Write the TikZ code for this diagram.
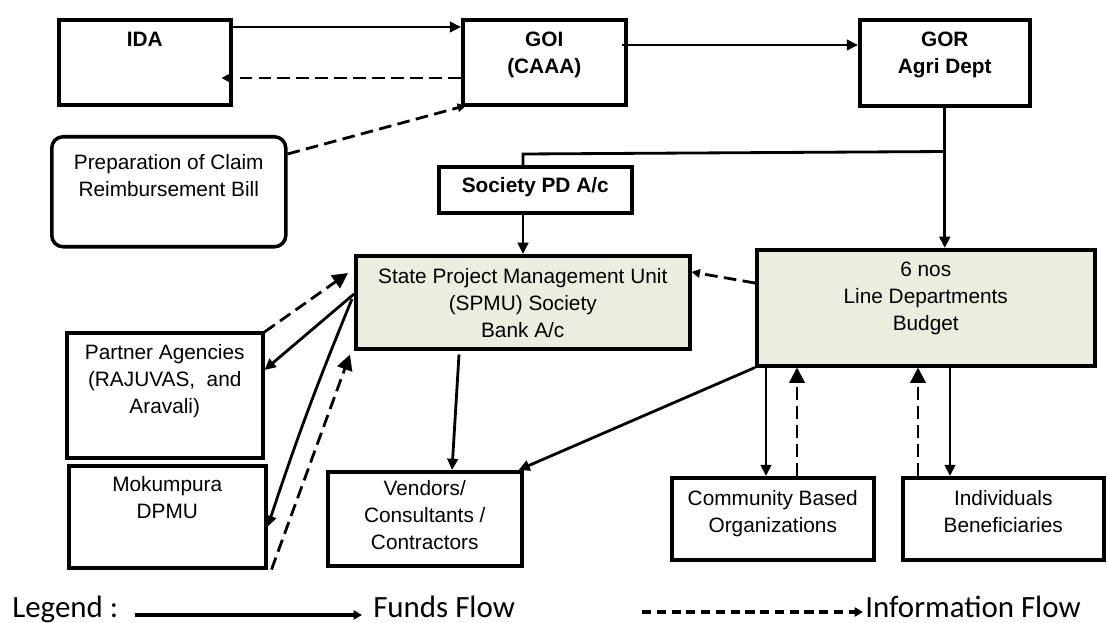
\documentclass[tikz,border=0pt]{standalone}
\usepackage{fontspec}
\setmainfont{Liberation Sans}
\newfontfamily\legfont{Carlito}
\usetikzlibrary{arrows.meta,calc}
\definecolor{spmufill}{HTML}{EBEEDE}
\newlength{\pxu}
\setlength{\pxu}{0.025cm}
% box text: width, height, first baseline from top, text
\newcommand{\boxtxt}[4]{\parbox[c][#2\pxu][t]{#1\pxu}{\centering\rule{0pt}{#3\pxu}#4}}

\begin{document}
\begin{tikzpicture}[x=0.025cm,y=-0.025cm,
  box/.style={draw, line width=2.5pt, inner sep=0pt, anchor=north west},
  fundflow/.style={line width=2pt, -{Triangle[length=8pt,width=7.5pt]}},
  infoflow/.style={line width=2pt, dash pattern=on 9pt off 4.5pt, -{Triangle[length=6pt,width=6pt]}},
  infobig/.style={line width=2pt, dash pattern=on 9pt off 4.5pt, -{Triangle[length=11pt,width=11pt]}}]
\fontsize{14.8}{19.2}\selectfont
\useasboundingbox (0,0) rectangle (1107,623);
% top row
\node[box] (ida) at (57,18) {\boxtxt{172}{85}{27}{\bfseries IDA}};
\node[box] (goi) at (461,18) {\boxtxt{163}{85}{27}{\bfseries GOI\\(CAAA)}};
\node[box] (gor) at (858,18) {\boxtxt{170}{86}{27}{\bfseries GOR\\Agri Dept}};
\node[box, rounded corners=8pt] (prep) at (50,135) {\boxtxt{234}{110}{33}{Preparation of Claim\\Reimbursement Bill}};
\node[box] (soc) at (437,165) {\boxtxt{193}{46}{26}{\bfseries Society PD A/c}};
% middle row
\node[box, fill=spmufill] (spmu) at (354,254) {\boxtxt{334}{93}{28}{State Project Management Unit\\(SPMU) Society\\Bank A/c}};
\node[box, fill=spmufill] (ld) at (755,248) {\boxtxt{338}{116}{27}{6 nos\\Line Departments\\Budget}};
\node[box] (part) at (65,331) {\boxtxt{196}{125}{27}{Partner Agencies\\(RAJUVAS,\ \ and\\Aravali)}};
\node[box] (mok) at (67,464) {\boxtxt{197}{102}{26}{Mokumpura\\DPMU}};
% bottom row
\node[box] (vend) at (326,470) {\boxtxt{194}{94}{24}{Vendors/\\Consultants /\\Contractors}};
\node[box] (cbo) at (670,476) {\boxtxt{202}{82}{28}{Community Based\\Organizations}};
\node[box] (ind) at (901,476) {\boxtxt{201}{82}{28}{Individuals\\Beneficiaries}};

% IDA - GOI - GOR
\draw[fundflow] ($(ida.north east)+(0,9)$) -- ($(goi.north west)+(0,9)$);
\draw[infoflow] ($(goi.north west)+(0,60)$) -- ($(ida.north east)+(-11,60)$);
\draw[fundflow] ($(goi.north east)+(-6,27)$) -- ($(gor.north west)+(0,27)$);
\draw[infoflow] ($(prep.north east)+(0,19)$) -- ($(goi.south west)+(5,-1)$);
% GOR down to society and line depts
\draw[fundflow] (gor.south) -- (gor.south |- ld.north);
\coordinate (br) at ($(gor.south)+(0,44)$);
\coordinate (socin) at ($(soc.north west)+(86,0)$);
\draw[line width=2pt] (br) -- ($(socin)+(0,-11)$) -- (socin);
\coordinate (socout) at ($(soc.south west)+(86,0)$);
\draw[fundflow] (socout) -- (socout |- spmu.north);
\draw[infoflow] ($(ld.north west)+(0,35)$) -- ($(spmu.north east)+(0,18)$);
% SPMU and partners
\draw[infobig] ($(part.north east)+(0,1)$) -- ($(spmu.north west)+(-6,19)$);
\draw[fundflow] ($(spmu.north west)+(0,40)$) -- ($(part.north east)+(0,39)$);
\draw[fundflow] ($(spmu.north west)+(-2,45)$) to[bend right=2] ($(mok.north east)+(0,63)$);
\draw[infobig] ($(mok.south east)+(4,0)$) -- ($(spmu.south west)+(-4,4)$);
\draw[fundflow] ($(spmu.south west)+(105,4)$) -- ($(vend.north west)+(126,0)$);
\draw[fundflow] (ld.south west) -- ($(vend.north east)+(-5,0)$);
% line depts and beneficiaries
\draw[fundflow] ($(ld.south west)+(11,0)$) -- ($(cbo.north west)+(96,0)$);
\draw[infobig] ($(cbo.north west)+(127,0)$) -- ($(ld.south west)+(42,0)$);
\draw[infobig] ($(ind.north west)+(17,0)$) -- ($(ld.south west)+(163,0)$);
\draw[fundflow] ($(ld.south west)+(195,0)$) -- ($(ind.north west)+(49,0)$);

% legend
\node[anchor=base west, inner sep=0pt, font=\legfont\fontsize{22}{26}\selectfont] (leg) at (12,617) {Legend :};
\node[anchor=base west, inner sep=0pt, font=\legfont\fontsize{22}{26}\selectfont] (fundtxt) at (373,617) {Funds Flow};
\node[anchor=base west, inner sep=0pt, font=\legfont\fontsize{22}{26}\selectfont] (infotxt) at (865,617) {Information Flow};
\draw[line width=2.4pt, -{Triangle[length=6pt,width=6.5pt]}] ($(leg.base east)+(17,-2)$) -- ($(fundtxt.base west)+(-11,-2)$);
\coordinate (infostart) at (642,612);
\draw[line width=2.4pt, dash pattern=on 6.5pt off 4pt, -{Triangle[length=6pt,width=6.5pt]}] (infostart) -- ($(infotxt.base west)+(-2,-5)$);
\end{tikzpicture}
\end{document}
